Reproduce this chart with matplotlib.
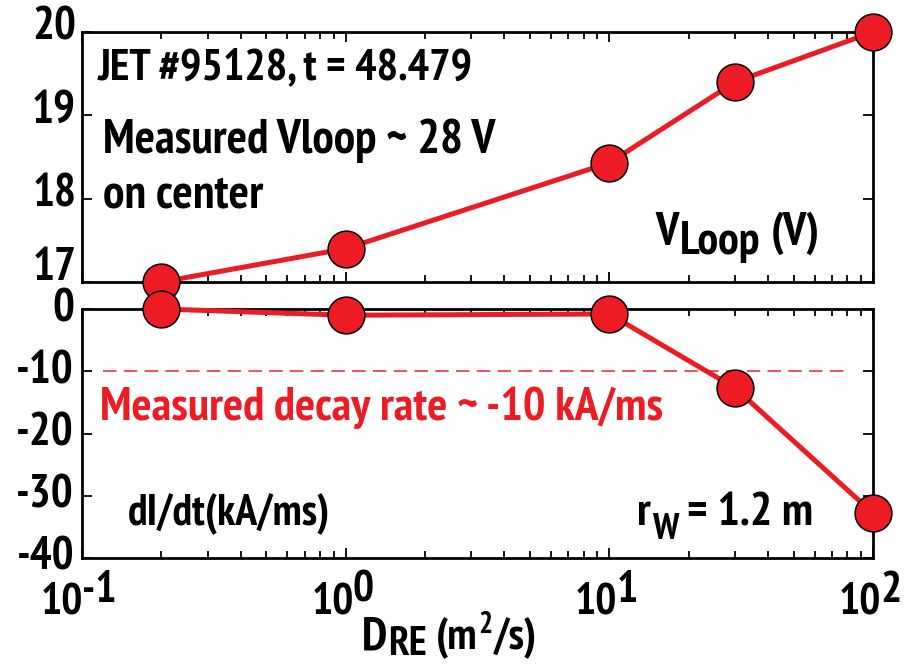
import matplotlib
matplotlib.use("Agg")
import matplotlib.pyplot as plt
from matplotlib import font_manager
from matplotlib.ticker import LogLocator, NullFormatter, FixedLocator

# Pick a condensed sans face that ships a bold weight
_bold = {f.name for f in font_manager.fontManager.ttflist
         if (isinstance(f.weight, int) and f.weight >= 600) or f.weight == "bold"}
FONT = "Liberation Sans"
for cand in ["Liberation Sans Narrow", "Arial Narrow", "Archivo Narrow", "PT Sans Narrow",
             "Roboto Condensed", "IBM Plex Sans Condensed", "Fira Sans Condensed",
             "Open Sans Condensed", "Sofia Sans Semi Condensed", "Barlow Semi Condensed"]:
    if cand in _bold:
        FONT = cand
        break

plt.rcParams["font.family"] = [FONT, "DejaVu Sans"]
plt.rcParams["font.weight"] = "bold"
plt.rcParams["axes.unicode_minus"] = False

RED = "#ED1C24"

# Runaway-electron diffusion coefficient scan
d_re = [0.2, 1.0, 10.0, 30.0, 100.0]
v_loop = [17.0, 17.4, 18.43, 19.4, 20.0]
di_dt = [0.0, -1.0, -0.8, -12.7, -32.8]
measured_decay = -10.0
measured_span = [0.12, 80.0]

x_ticks = [0.1, 1.0, 10.0, 100.0]
x_tick_exponents = ["-1", "0", "1", "2"]
top_yticks = [17, 18, 19, 20]
bot_yticks = [0, -10, -20, -30, -40]

W, H = 913, 669
fig = plt.figure(figsize=(W / 100, H / 100), dpi=100)
renderer = fig.canvas.get_renderer()


def box(x0, y0, x1, y1):
    return [x0 / W, 1 - y1 / H, (x1 - x0) / W, (y1 - y0) / H]


def fy(y_img):
    return H - y_img


def rich(ax, xy, pieces, xycoords="figure pixels", ha="left", color="black",
         fit=None, shift=(0, 0)):
    """Lay out runs of text on one baseline; each run is (text, size, gap_px, dy_px)."""
    def measure(scale):
        ws = []
        for s, size, gap, dy in pieces:
            t = fig.text(0, 0, s, fontsize=size * scale, fontweight="bold")
            ws.append(t.get_window_extent(renderer).width)
            t.remove()
        return ws

    scale = 1.0
    widths = measure(scale)
    total = sum(widths) + sum(p[2] for p in pieces)
    if fit is not None:
        scale = fit / total
        widths = measure(scale)
        total = sum(widths) + sum(p[2] * scale for p in pieces)
    x = {"left": 0.0, "center": -total / 2, "right": -total}[ha] + shift[0]
    for (s, size, gap, dy), w in zip(pieces, widths):
        x += gap * scale
        ax.annotate(s, xy=xy, xycoords=xycoords, xytext=(x, dy * scale + shift[1]),
                    textcoords="offset pixels", ha="left", va="baseline",
                    fontsize=size * scale, fontweight="bold", color=color,
                    annotation_clip=False, zorder=6)
        x += w


ax1 = fig.add_axes(box(82, 32, 873, 282))
ax2 = fig.add_axes(box(82, 309, 873, 558))

for ax in (ax1, ax2):
    ax.patch.set_visible(False)
    ax.set_xscale("log")
    ax.set_xlim(0.1, 100)
    ax.xaxis.set_major_locator(FixedLocator(x_ticks))
    ax.xaxis.set_minor_locator(LogLocator(base=10, subs=range(2, 10), numticks=20))
    ax.xaxis.set_minor_formatter(NullFormatter())
    ax.tick_params(which="both", direction="in", top=True, right=True, width=1.3,
                   labelleft=False, labelbottom=False)
    ax.tick_params(which="major", length=7)
    ax.tick_params(which="minor", length=5)
    for s in ax.spines.values():
        s.set_linewidth(2.0)

# Loop voltage panel
ax1.plot(d_re, v_loop, "-", color=RED, lw=3.6, zorder=4, clip_on=False)
ax1.plot(d_re, v_loop, "o", ms=26.5, mfc=RED, mec="black", mew=1.1,
         clip_on=False, zorder=5)
ax1.set_ylim(17, 20)
ax1.set_yticks(top_yticks)

# Current decay panel
ax2.plot(measured_span, [measured_decay, measured_decay], color="#F0444C", lw=1.3,
         dashes=(7.5, 4), zorder=3)
ax2.plot(d_re, di_dt, "-", color=RED, lw=3.6, zorder=4, clip_on=False)
ax2.plot(d_re, di_dt, "o", ms=26.5, mfc=RED, mec="black", mew=1.1,
         clip_on=False, zorder=5)
ax2.set_ylim(-40, 0)
ax2.set_yticks(bot_yticks)

# y tick labels
for v in top_yticks:
    dy = 14 if v == top_yticks[0] else 4
    ax1.annotate(str(v), xy=(0, v), xycoords=ax1.get_yaxis_transform(),
                 xytext=(-6, dy), textcoords="offset pixels", ha="right", va="center",
                 fontsize=33, fontweight="bold", annotation_clip=False)
for v in bot_yticks:
    ax2.annotate(str(v), xy=(0, v), xycoords=ax2.get_yaxis_transform(),
                 xytext=(-8, 0), textcoords="offset pixels", ha="right", va="center",
                 fontsize=33, fontweight="bold", annotation_clip=False)

# x tick labels: 10 with a near full-size raised exponent
for t, e in zip(x_ticks, x_tick_exponents):
    rich(ax2, (t, 0), [("10", 32, 0, 0), (e, 32, -1, 11)],
         xycoords=ax2.get_xaxis_transform(), ha="center", shift=(-3, -55))

# panel annotations
rich(ax1, (98, fy(79)), [("JET #95128, t = 48.479", 29, 0, 0)], fit=375)
rich(ax1, (103, fy(153)), [("Measured Vloop ~ 28 V", 30, 0, 0)], fit=393)
rich(ax1, (103, fy(207)), [("on center", 30, 0, 0)], fit=159)
rich(ax1, (820, fy(245)), [("V", 25, 0, 0), ("Loop", 25, 1, -7), ("(V)", 25, 8, 0)],
     ha="right", fit=165)
rich(ax2, (100, fy(420)), [("Measured decay rate ~ -10 kA/ms", 31, 0, 0)],
     color=RED, fit=563)
rich(ax2, (128, fy(525)), [("dI/dt(kA/ms)", 25, 0, 0)], fit=202)
rich(ax2, (813, fy(525)), [("r", 28, 0, 0), ("W", 22, 1, -12), ("= 1.2 m", 28, 7, 0)],
     ha="right", fit=176)
rich(ax2, (362, fy(649)), [("D", 32, 0, 0), ("RE", 28, 1, -6), ("(m", 30, 8, 0),
                           ("2", 20, 1, 15), ("/s)", 30, 1, 0)], fit=175)

fig.savefig("out.png", dpi=100)
